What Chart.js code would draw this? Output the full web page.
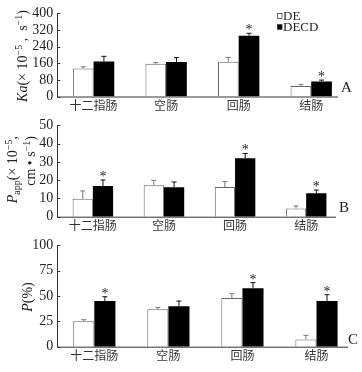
<!DOCTYPE html>
<html>
<head>
<meta charset="utf-8">
<script src="https://cdn.jsdelivr.net/npm/chart.js@4.4.1/dist/chart.umd.min.js"></script>
<style>
  html, body { margin: 0; padding: 0; background: #fff; }
  #wrap { position: relative; width: 362px; height: 372px; overflow: hidden; }
  canvas { position: absolute; left: 0; }
</style>
</head>
<body>
<div id="wrap">
  <canvas id="chartA" width="362" height="120" style="top:0px"></canvas>
  <canvas id="chartB" width="362" height="128" style="top:112px"></canvas>
  <canvas id="chartC" width="362" height="140" style="top:232px"></canvas>
</div>
<script>
const SEGMENTS = ["十二指肠", "空肠", "回肠", "结肠"];
const SERIES = ["DE", "DECD"];

// A: Ka (×10^-5, s^-1)
const kaDE      = [135, 157, 167, 51];
const kaDEerr   = [8, 6, 21, 7];
const kaDECD    = [168, 166, 292, 72];
const kaDECDerr = [25, 21, 12, 7];
const kaStars   = [false, false, true, true];
const kaTicks   = [0, 80, 160, 240, 320, 400];

// B: Papp (×10^-5, cm·s^-1)
const pappDE      = [9.8, 17.2, 16.2, 4.5];
const pappDEerr   = [4.3, 2.7, 3.0, 1.4];
const pappDECD    = [16.8, 16.1, 32.0, 12.8];
const pappDECDerr = [3.3, 2.9, 2.6, 1.8];
const pappStars   = [true, false, true, true];
const pappTicks   = [0, 10, 20, 30, 40, 50];

// C: P (%)
const pDE      = [25, 37, 48, 7.2];
const pDEerr   = [1.6, 1.6, 4.3, 4];
const pDECD    = [45, 40, 57.6, 45];
const pDECDerr = [4.3, 5, 5.6, 6.3];
const pStars   = [true, false, true, true];
const pTicks   = [0, 25, 50, 75, 100];

const SERIF = '"Liberation Serif", "DejaVu Serif", serif';
const CJK = '"Noto Sans CJK SC", sans-serif';

// draw text made of styled pieces, rotated -90deg
function drawRich(ctx, segs, x, y, align) {
  const base = 14;
  const fontOf = s => {
    const size = (s.sup || s.sub) ? 10 : base;
    return `${s.i ? "italic " : ""}${size}px ${SERIF}`;
  };
  let total = 0;
  segs.forEach(s => { ctx.font = fontOf(s); s.w = ctx.measureText(s.t).width; total += s.w; });
  ctx.save();
  ctx.translate(x, y);
  ctx.rotate(-Math.PI / 2);
  ctx.fillStyle = "#222";
  ctx.textBaseline = "alphabetic";
  ctx.textAlign = "left";
  let cx = align === "end" ? -total : -total / 2;
  segs.forEach(s => {
    ctx.font = fontOf(s);
    const dy = s.sup ? -5 : (s.sub ? 3 : 0);
    ctx.fillText(s.t, cx, dy);
    cx += s.w;
  });
  ctx.restore();
}

const extras = {
  id: "extras",
  afterDatasetsDraw(chart, args, opts) {
    const ctx = chart.ctx;
    const ys = chart.scales.y;
    chart.data.datasets.forEach((ds, i) => {
      const meta = chart.getDatasetMeta(i);
      meta.data.forEach((bar, j) => {
        const top = ys.getPixelForValue(ds.data[j] + ds.errors[j]);
        ctx.save();
        ctx.strokeStyle = i === 0 ? "#777" : "#111";
        ctx.lineWidth = 1;
        ctx.beginPath();
        ctx.moveTo(bar.x, bar.y);
        ctx.lineTo(bar.x, top);
        ctx.moveTo(bar.x - 2.5, top);
        ctx.lineTo(bar.x + 2.5, top);
        ctx.stroke();
        if (ds.stars && ds.stars[j]) {
          ctx.fillStyle = "#222";
          ctx.font = `14px ${SERIF}`;
          ctx.textAlign = "center";
          ctx.textBaseline = "alphabetic";
          ctx.fillText("*", bar.x, top + 1);
        }
        ctx.restore();
      });
    });
  },
  afterDraw(chart, args, opts) {
    const ctx = chart.ctx;
    const area = chart.chartArea;
    const ys = chart.scales.y;
    ctx.save();
    ctx.strokeStyle = "#333";
    ctx.lineWidth = 1;
    // x axis line
    ctx.beginPath();
    ctx.moveTo(area.left, area.bottom + 0.5);
    ctx.lineTo(opts.axisRight, area.bottom + 0.5);
    ctx.stroke();
    // inward tick marks
    ys.ticks.forEach(t => {
      const py = Math.round(ys.getPixelForValue(t.value)) + 0.5;
      ctx.beginPath();
      ctx.moveTo(area.left, py);
      ctx.lineTo(area.left + 3, py);
      ctx.stroke();
    });
    ctx.restore();

    // axis title
    opts.title.forEach(line => drawRich(ctx, line.segs, line.x, line.y, line.align));

    // panel letter
    ctx.save();
    ctx.fillStyle = "#222";
    ctx.font = `15px ${SERIF}`;
    ctx.textAlign = "left";
    ctx.textBaseline = "middle";
    ctx.fillText(opts.letter, opts.letterX, opts.letterY);
    ctx.restore();

    // legend
    if (opts.legend) {
      ctx.save();
      chart.data.datasets.forEach((ds, i) => {
        const ly = 16 + i * 11;
        ctx.fillStyle = ds.backgroundColor;
        ctx.fillRect(277, ly - 2.5, 5, 5);
        ctx.strokeStyle = "#444";
        ctx.lineWidth = 0.8;
        ctx.strokeRect(277.5, ly - 2.5, 4.5, 5);
        ctx.fillStyle = "#222";
        ctx.font = `13px ${SERIF}`;
        ctx.textAlign = "left";
        ctx.textBaseline = "middle";
        ctx.fillText(ds.label, 283, ly + 0.5);
      });
      ctx.restore();
    }
  }
};

function makePanel(id, p) {
  return new Chart(document.getElementById(id), {
    type: "bar",
    data: {
      labels: SEGMENTS,
      datasets: [
        {
          label: SERIES[0], data: p.de, errors: p.deErr,
          backgroundColor: "#ffffff", borderColor: "#666", borderWidth: 1,
          categoryPercentage: 0.57, barPercentage: 1
        },
        {
          label: SERIES[1], data: p.decd, errors: p.decdErr, stars: p.stars,
          backgroundColor: "#000000", borderColor: "#000", borderWidth: 0,
          categoryPercentage: 0.57, barPercentage: 1
        }
      ]
    },
    options: {
      responsive: false,
      animation: false,
      devicePixelRatio: 1,
      layout: { padding: { top: 13.3, right: p.padRight, left: 0, bottom: 0 } },
      plugins: {
        legend: { display: false },
        tooltip: { enabled: false },
        extras: p.extras
      },
      scales: {
        x: {
          grid: { display: false, drawTicks: false },
          border: { display: false },
          ticks: { color: "#333", font: { family: CJK, size: 12 }, padding: 2, maxRotation: 0, autoSkip: false },
          afterFit: s => { s.height = p.xHeight; }
        },
        y: {
          min: 0,
          max: p.ticks[p.ticks.length - 1],
          afterBuildTicks: s => { s.ticks = p.ticks.map(v => ({ value: v })); },
          grid: { display: false, drawTicks: false },
          border: { display: true, color: "#333", width: 1 },
          ticks: { color: "#222", font: { family: SERIF, size: 14 }, padding: 4, autoSkip: false },
          afterFit: s => { s.width = 57.3; }
        }
      }
    },
    plugins: [extras]
  });
}

makePanel("chartA", {
  de: kaDE, deErr: kaDEerr, decd: kaDECD, decdErr: kaDECDerr, stars: kaStars, ticks: kaTicks,
  padRight: 14.5, xHeight: 23.5,
  extras: {
    axisRight: 338, letter: "A", letterX: 341, letterY: 88, legend: true,
    title: [{ x: 27, y: 56, align: "center", segs: [
      { t: "Ka", i: true }, { t: "(× 10" }, { t: "−5", sup: true }, { t: " ,  s" }, { t: "−1", sup: true }, { t: ")" }
    ] }]
  }
});

makePanel("chartB", {
  de: pappDE, deErr: pappDEerr, decd: pappDECD, decdErr: pappDECDerr, stars: pappStars, ticks: pappTicks,
  padRight: 20.3, xHeight: 23.3,
  extras: {
    axisRight: 336, letter: "B", letterX: 339, letterY: 96, legend: false,
    title: [
      { x: 17, y: 24, align: "end", segs: [
        { t: "P", i: true }, { t: "app", sub: true }, { t: "(× 10" }, { t: "−5", sup: true }, { t: "," }
      ] },
      { x: 35, y: 24, align: "end", segs: [
        { t: "cm • s" }, { t: "−1", sup: true }, { t: ")" }
      ] }
    ]
  }
});

makePanel("chartC", {
  de: pDE, deErr: pDEerr, decd: pDECD, decdErr: pDECDerr, stars: pStars, ticks: pTicks,
  padRight: 8.5, xHeight: 25.3,
  extras: {
    axisRight: 348, letter: "C", letterX: 348, letterY: 108, legend: false,
    title: [{ x: 32, y: 65, align: "center", segs: [
      { t: "P", i: true }, { t: "(%)" }
    ] }]
  }
});
</script>
</body>
</html>
